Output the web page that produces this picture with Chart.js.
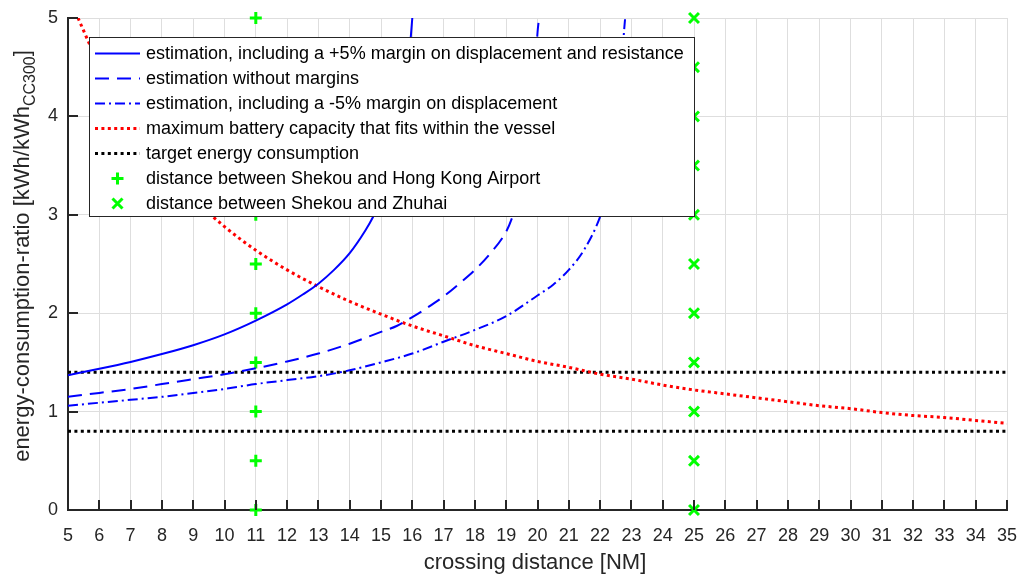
<!DOCTYPE html>
<html>
<head>
<meta charset="utf-8">
<script src="https://cdn.jsdelivr.net/npm/chart.js@4.4.1/dist/chart.umd.min.js"></script>
<style>
    html, body { margin: 0; padding: 0; background: #fff; }
</style>
</head>
<body>
<canvas id="energyChart" width="1019" height="574"></canvas>
<script>
// values
const plus5X  = [5, 6, 7, 8, 9, 10, 11, 12, 12.5, 13, 13.5, 14, 14.5, 14.75, 15, 15.25, 15.5, 15.7, 15.85, 15.95, 16.0];
const plus5Y  = [1.37, 1.435, 1.505, 1.585, 1.675, 1.785, 1.925, 2.09, 2.19, 2.30, 2.44, 2.61, 2.84, 2.98, 3.15, 3.38, 3.7, 4.05, 4.4, 4.8, 5.0];

const noMarginX = [5, 6, 7, 8, 9, 10, 11, 12, 13, 14, 15, 15.5, 16, 16.5, 17, 17.5, 18, 18.5, 19, 19.2, 19.5, 19.75, 19.9, 20.0, 20.05];
const noMarginY = [1.15, 1.19, 1.23, 1.28, 1.33, 1.38, 1.44, 1.51, 1.59, 1.69, 1.81, 1.87, 1.96, 2.06, 2.17, 2.30, 2.44, 2.61, 2.83, 2.98, 3.3, 3.8, 4.3, 4.85, 5.0];

const minus5X = [5, 6, 7, 8, 9, 10, 11, 12, 13, 14, 15, 16, 17, 18, 19, 20, 20.5, 21, 21.5, 22, 22.3, 22.5, 22.65, 22.75, 22.8];
const minus5Y = [1.06, 1.09, 1.12, 1.15, 1.19, 1.23, 1.28, 1.32, 1.36, 1.42, 1.50, 1.59, 1.71, 1.83, 1.97, 2.18, 2.29, 2.44, 2.65, 2.98, 3.3, 3.7, 4.2, 4.8, 5.0];

const batteryX = [5.32, 6, 7, 8, 9, 10, 11, 12, 13, 14, 15, 16, 17, 18, 19, 20, 21, 22, 23, 24, 25, 26, 27, 28, 29, 30, 31, 32, 33, 34, 35];
const batteryY = [5.0, 4.52, 3.96, 3.52, 3.17, 2.88, 2.64, 2.44, 2.27, 2.12, 1.99, 1.87, 1.77, 1.67, 1.59, 1.51, 1.45, 1.38, 1.33, 1.27, 1.22, 1.18, 1.14, 1.10, 1.06, 1.03, 0.99, 0.96, 0.94, 0.91, 0.88];

const targetLevels = [1.4, 0.8];
const hkAirportX = 11;
const zhuhaiX = 25;
const markerLevels = [0, 0.5, 1, 1.5, 2, 2.5, 3, 3.5, 4, 4.5, 5];

const xRange = [5, 35];
const yRange = [0, 5];

const legendLabels = [
    "estimation, including a +5% margin on displacement and resistance",
    "estimation without margins",
    "estimation, including a -5% margin on displacement",
    "maximum battery capacity that fits within the vessel",
    "target energy consumption",
    "distance between Shekou and Hong Kong Airport",
    "distance between Shekou and Zhuhai",
];

const FONT = "'Liberation Sans', Arial, Helvetica, sans-serif";
const AXIS_COLOR = "#262626";
const BLUE = "#0000ff";
const RED = "#ff0000";
const GREEN = "#00ff00";

const DASHED = [14, 8];
const DASH_DOT = [10, 4, 2, 4];
const DOTTED = [3, 3.4];

const toPoints = (xs, ys) => xs.map((x, i) => ({ x: x, y: ys[i] }));

const lineSet = (xs, ys, color, dash, width) => ({
    data: toPoints(xs, ys),
    showLine: true,
    borderColor: color,
    borderWidth: width,
    borderDash: dash,
    borderCapStyle: "butt",
    pointRadius: 0,
    cubicInterpolationMode: "monotone",
});

// legend sample styles, same order as legendLabels
const legendStyles = [
    { color: BLUE, dash: [], width: 2 },
    { color: BLUE, dash: DASHED, width: 2 },
    { color: BLUE, dash: DASH_DOT, width: 2 },
    { color: RED, dash: DOTTED, width: 3 },
    { color: "#000", dash: DOTTED, width: 3 },
    { marker: "cross" },
    { marker: "crossRot" },
];

// inward tick marks, like the MATLAB axes
const innerTicksPlugin = {
    id: "innerTicks",
    afterDatasetsDraw: (chart) => {
        const { ctx, chartArea, scales } = chart;
        ctx.save();
        ctx.strokeStyle = AXIS_COLOR;
        ctx.lineWidth = 2;
        ctx.beginPath();
        for (let v = xRange[0]; v <= xRange[1]; v++) {
            const px = Math.round(scales.x.getPixelForValue(v));
            ctx.moveTo(px, chartArea.bottom);
            ctx.lineTo(px, chartArea.bottom - 10);
        }
        for (let v = yRange[0]; v <= yRange[1]; v++) {
            const py = Math.round(scales.y.getPixelForValue(v));
            ctx.moveTo(chartArea.left, py);
            ctx.lineTo(chartArea.left + 10, py);
        }
        ctx.stroke();
        ctx.restore();
    },
};

// axis titles (y title needs a subscript) and the legend box inside the plot
const overlayPlugin = {
    id: "overlay",
    afterDraw: (chart) => {
        const { ctx } = chart;
        ctx.save();

        // x title
        ctx.fillStyle = AXIS_COLOR;
        ctx.font = "22px " + FONT;
        ctx.textAlign = "center";
        ctx.textBaseline = "middle";
        ctx.fillText("crossing distance [NM]", 535, 563);

        // y title
        const mainText = "energy-consumption-ratio [kWh/kWh";
        const subText = "CC300";
        const endText = "]";
        ctx.font = "22px " + FONT;
        const wMain = ctx.measureText(mainText).width;
        const wEnd = ctx.measureText(endText).width;
        ctx.font = "16px " + FONT;
        const wSub = ctx.measureText(subText).width;
        const total = wMain + wSub + wEnd;
        ctx.translate(22, 256);
        ctx.rotate(-Math.PI / 2);
        ctx.textAlign = "left";
        ctx.textBaseline = "alphabetic";
        const x0 = -total / 2;
        ctx.font = "22px " + FONT;
        ctx.fillText(mainText, x0, 7);
        ctx.font = "16px " + FONT;
        ctx.fillText(subText, x0 + wMain, 13);
        ctx.font = "22px " + FONT;
        ctx.fillText(endText, x0 + wMain + wSub, 7);
        ctx.setTransform(1, 0, 0, 1, 0, 0);

        // legend
        const box = { left: 89.5, top: 37.5, right: 694.5, bottom: 216.5 };
        ctx.fillStyle = "#fff";
        ctx.fillRect(box.left, box.top, box.right - box.left, box.bottom - box.top);
        ctx.strokeStyle = AXIS_COLOR;
        ctx.lineWidth = 1;
        ctx.strokeRect(box.left, box.top, box.right - box.left, box.bottom - box.top);

        ctx.font = "18px " + FONT;
        ctx.textAlign = "left";
        ctx.textBaseline = "middle";
        legendLabels.forEach((label, i) => {
            const y = 53.5 + i * 25;
            const st = legendStyles[i];
            if (st.marker) {
                ctx.strokeStyle = GREEN;
                ctx.lineWidth = 3;
                ctx.beginPath();
                if (st.marker === "cross") {
                    const r = 6;
                    ctx.moveTo(117.5 - r, y); ctx.lineTo(117.5 + r, y);
                    ctx.moveTo(117.5, y - r); ctx.lineTo(117.5, y + r);
                } else {
                    const r = 5;
                    ctx.moveTo(117.5 - r, y - r); ctx.lineTo(117.5 + r, y + r);
                    ctx.moveTo(117.5 + r, y - r); ctx.lineTo(117.5 - r, y + r);
                }
                ctx.stroke();
            } else {
                ctx.strokeStyle = st.color;
                ctx.lineWidth = st.width;
                ctx.setLineDash(st.dash);
                ctx.beginPath();
                ctx.moveTo(95, y);
                ctx.lineTo(140, y);
                ctx.stroke();
                ctx.setLineDash([]);
            }
            ctx.fillStyle = "#000";
            ctx.fillText(label, 146, y + 1);
        });

        ctx.restore();
    },
};

Chart.defaults.font.family = FONT;

const datasets = [
    lineSet(plus5X, plus5Y, BLUE, [], 2),
    lineSet(noMarginX, noMarginY, BLUE, DASHED, 2),
    lineSet(minus5X, minus5Y, BLUE, DASH_DOT, 2),
    lineSet(batteryX, batteryY, RED, DOTTED, 3),
];

targetLevels.forEach((level) => {
    datasets.push(lineSet(xRange, [level, level], "#000", DOTTED, 3));
});

datasets.push({
    data: markerLevels.map((v) => ({ x: hkAirportX, y: v })),
    showLine: false,
    pointStyle: "cross",
    pointRadius: 6,
    pointBorderWidth: 3,
    pointBorderColor: GREEN,
    clip: false,
});
datasets.push({
    data: markerLevels.map((v) => ({ x: zhuhaiX, y: v })),
    showLine: false,
    pointStyle: "crossRot",
    pointRadius: 7,
    pointBorderWidth: 3,
    pointBorderColor: GREEN,
    clip: false,
});

const ctx = document.getElementById("energyChart").getContext("2d");
new Chart(ctx, {
    type: "scatter",
    data: { datasets: datasets },
    options: {
        responsive: false,
        animation: false,
        layout: {
            padding: { left: 0, right: 12, top: 18, bottom: 0 },
        },
        scales: {
            x: {
                type: "linear",
                min: xRange[0],
                max: xRange[1],
                afterFit: (scale) => {
                    scale.height = 64;
                    scale.paddingLeft = 0;
                    scale.paddingRight = 0;
                },
                grid: { color: "#dedede", lineWidth: 1, drawTicks: false },
                border: { display: true, color: AXIS_COLOR, width: 2 },
                ticks: {
                    stepSize: 1,
                    autoSkip: false,
                    maxRotation: 0,
                    padding: 15,
                    color: AXIS_COLOR,
                    font: { size: 18 },
                },
            },
            y: {
                type: "linear",
                min: yRange[0],
                max: yRange[1],
                afterFit: (scale) => {
                    scale.width = 68;
                    scale.paddingTop = 0;
                    scale.paddingBottom = 0;
                },
                grid: { color: "#dedede", lineWidth: 1, drawTicks: false },
                border: { display: true, color: AXIS_COLOR, width: 2 },
                ticks: {
                    stepSize: 1,
                    padding: 10,
                    color: AXIS_COLOR,
                    font: { size: 18 },
                },
            },
        },
        plugins: {
            legend: { display: false },
            tooltip: { enabled: false },
        },
    },
    plugins: [innerTicksPlugin, overlayPlugin],
});
</script>
</body>
</html>
